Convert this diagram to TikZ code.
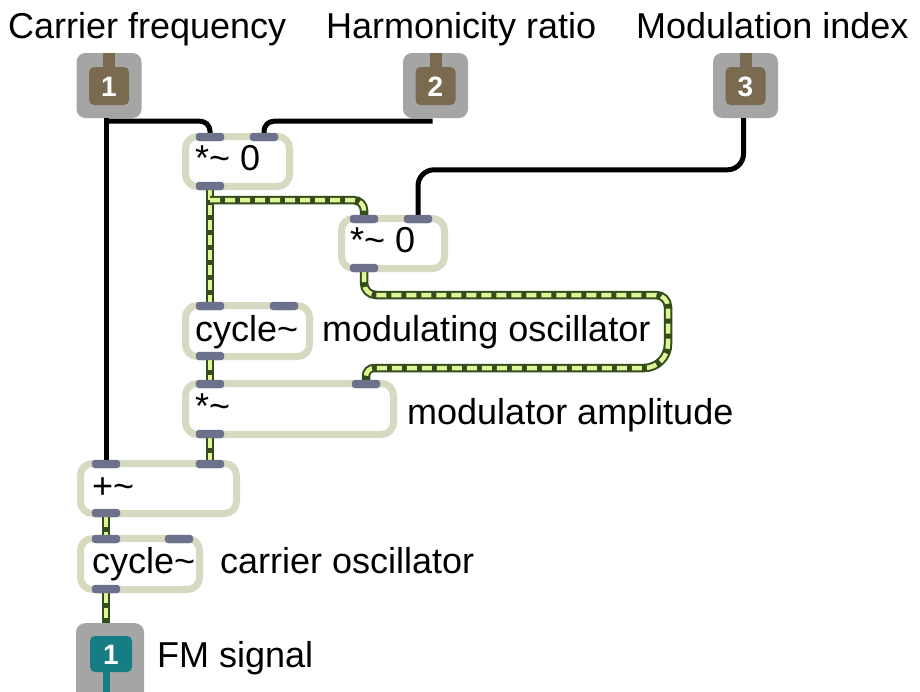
\documentclass[tikz,border=0pt]{standalone}
\usepackage{fontspec}
\setmainfont{Liberation Sans}
\usetikzlibrary{calc}
\definecolor{ingray}{RGB}{165,165,165}
\definecolor{inbrown}{RGB}{122,106,80}
\definecolor{outteal}{RGB}{22,125,133}
\definecolor{sage}{RGB}{213,218,193}
\definecolor{tabc}{RGB}{108,113,140}
\definecolor{sigd}{RGB}{50,76,28}
\definecolor{sigl}{RGB}{226,245,150}
\begin{document}
\begin{tikzpicture}[x=1pt,y=-1pt,
  lbl/.style={anchor=base west, inner sep=0pt, font=\fontsize{36}{40}\selectfont},
  num/.style={text=white, inner sep=0pt, font=\bfseries\fontsize{28}{30}\selectfont},
  obj/.style={draw=sage, line width=7pt, fill=white, rounded corners=12pt, inner sep=0pt},
  tab/.style={fill=tabc, rounded corners=3.5pt, minimum width=28pt, minimum height=8pt, inner sep=0pt},
  ioouter/.style={fill=ingray, rounded corners=9pt, inner sep=0pt, minimum width=65pt, minimum height=65pt},
  ioinner/.style={rounded corners=5pt, inner sep=0pt, minimum width=40pt, minimum height=38pt},
  cw/.style={draw=black, line width=5pt},
  sw/.style={draw=sigl, line width=4.5pt, dash pattern=on 10pt off 5pt,
    preaction={draw=sigd, line width=8.5pt, solid}}]
\useasboundingbox (0,0) rectangle (920,691);
\clip (0,0) rectangle (920,691);
\fill[white] (0,0) rectangle (920,691);

% top labels
\node[lbl] (lab1) at (8,38) {Carrier frequency};
\node[lbl] (lab2) at (326,38) {Harmonicity ratio};
\node[lbl] (lab3) at (636,38) {Modulation index};

% inlets
\foreach \n/\x in {1/109,2/435.5,3/745.5}{
  \node[ioouter] (in\n) at (\x,85.5) {};
  \node[ioinner, fill=inbrown] (in\n b) at (\x,86) {};
  \fill[inbrown] ($(in\n b.north)+(-6,1)$) rectangle ($(in\n.north)+(6,0)$);
  \node[num] (in\n t) at ($(in\n b)+(0,1)$) {\n};
}

% outlet
\node[fill=ingray, rounded corners=9pt, inner sep=0pt, minimum width=68pt, minimum height=80pt, anchor=north] (out1) at (110,623) {};
\node[ioinner, fill=outteal, minimum width=42pt, minimum height=36pt] (out1b) at (111,654) {};
\fill[outteal] ($(out1b.south)+(-8,-1)$) rectangle (out1.south);
\node[num] (out1t) at ($(out1b)+(0,1)$) {1};
\node[lbl] (labfm) at (157,667) {FM signal};

% objects
\node[obj, minimum width=104pt, minimum height=50pt] (m1) at (237.5,161.5) {};
\node[obj, minimum width=103pt, minimum height=50pt] (m2) at (393,243.5) {};
\node[obj, minimum width=124pt, minimum height=51pt] (c1) at (247.5,331) {};
\node[obj, minimum width=208pt, minimum height=51pt] (amp) at (289.5,409) {};
\node[obj, minimum width=156pt, minimum height=50pt] (add) at (158.5,488.5) {};
\node[obj, minimum width=119pt, minimum height=51pt] (c2) at (140,564) {};

\node[lbl] (m1t) at (195,170) {*\textasciitilde\ 0};
\node[lbl] (m2t) at (350,252) {*\textasciitilde\ 0};
\node[lbl] (c1t) at (195,341) {cycle\textasciitilde};
\node[lbl] (ampt) at (195,418) {*\textasciitilde};
\node[lbl] (addt) at (92,498) {+\textasciitilde};
\node[lbl] (c2t) at (92,573) {cycle\textasciitilde};

\node[lbl] (labc1) at (322,341) {modulating oscillator};
\node[lbl] (labamp) at (407,424) {modulator amplitude};
\node[lbl] (labc2) at (220,573) {carrier oscillator};

% tabs
\node[tab] (m1i1) at (210,137) {};
\node[tab] (m1i2) at (264,137) {};
\node[tab] (m1o) at (210,186) {};
\node[tab] (m2i1) at (364,219) {};
\node[tab] (m2i2) at (418,219) {};
\node[tab] (m2o) at (364,268) {};
\node[tab] (c1i1) at (210,306) {};
\node[tab] (c1i2) at (284,306) {};
\node[tab] (c1o) at (210,356) {};
\node[tab] (ampi1) at (210,384) {};
\node[tab] (ampi2) at (366,384) {};
\node[tab] (ampo) at (210,434) {};
\node[tab] (addi1) at (106,464) {};
\node[tab] (addi2) at (210,464) {};
\node[tab] (addo) at (106,513) {};
\node[tab] (c2i1) at (106,539) {};
\node[tab] (c2i2) at (179,539) {};
\node[tab] (c2o) at (106,589) {};

% control wires
\draw[cw] (addi1.north |- in1.south) -- (addi1.north);
\draw[cw, rounded corners=10pt] ($(addi1.north |- in1.south)+(0,3)$) -| (m1i1.north);
\draw[cw, rounded corners=10pt] ($(in2.south)+(-3,3)$) -| (m1i2.north);
\draw[cw, rounded corners=16pt] ($(in3.south)+(-2,0)$) |- ($(m2i2.north)+(0,-45)$) -- (m2i2.north);

% signal wires
\draw[sw] (m1o.south) -- (c1i1.north);
\draw[sw, rounded corners=10pt] ($(m1o.south)+(0,10)$) -| (m2i1.north);
\coordinate (r1) at (668,295);
\coordinate (r2) at (668,368);
\draw[sw] (m2o.south) [rounded corners=12pt] |- (r1) [rounded corners=24pt] -- (r2) [rounded corners=8pt] -| (ampi2.north);
\draw[sw] (c1o.south) -- (ampi1.north);
\draw[sw] (ampo.south) -- (addi2.north);
\draw[sw] (addo.south) -- (c2i1.north);
\draw[sw] (c2o.south) -- (c2o.south |- out1.north);

% redraw tabs on top of wires
\foreach \t in {m1i1,m1i2,m1o,m2i1,m2i2,m2o,c1i1,c1i2,c1o,ampi1,ampi2,ampo,addi1,addi2,addo,c2i1,c2i2,c2o}{
  \fill[tabc, rounded corners=3.5pt] (\t.south west) rectangle (\t.north east);
}
\end{tikzpicture}
\end{document}
